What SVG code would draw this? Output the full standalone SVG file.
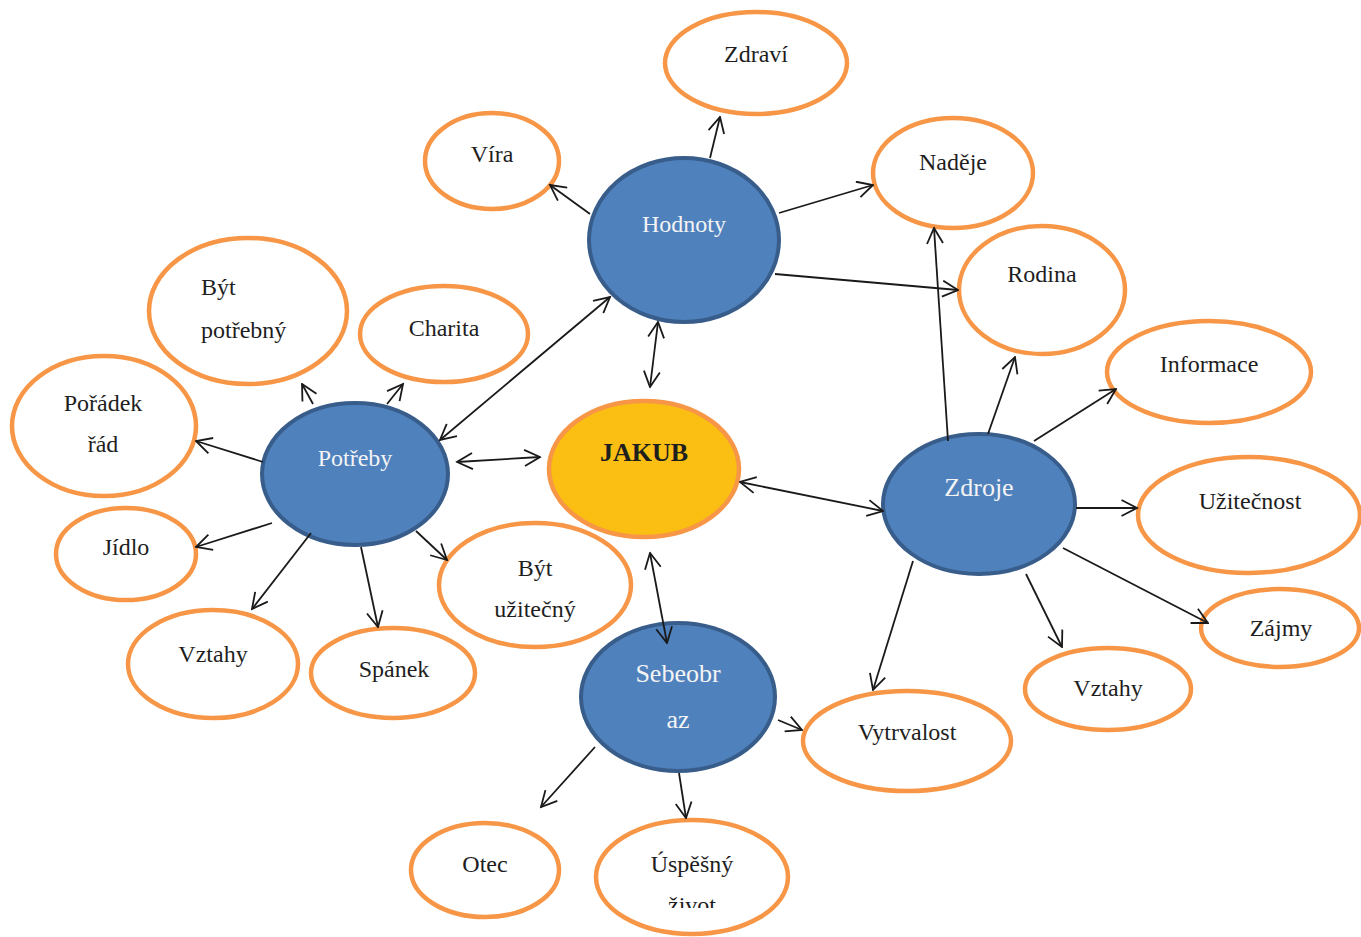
<svg xmlns="http://www.w3.org/2000/svg" width="1361" height="937" viewBox="0 0 1361 937">
<style>
.o{fill:#fff;stroke:#F79646;stroke-width:4.5}
.b{fill:#4F81BD;stroke:#385D8A;stroke-width:4}
.t{font-family:"Liberation Serif","Times New Roman",serif;font-size:24px;fill:#1e1e1e;text-anchor:middle}
.w{font-family:"Liberation Serif","Times New Roman",serif;font-size:24px;fill:#F4F4F4;text-anchor:middle}
.c line{stroke:#1a1a1a;stroke-width:1.8;marker-end:url(#ah)}
.c line.d{marker-start:url(#ah)}
</style>
<defs>
<marker id="ah" viewBox="0 0 18 18" refX="16.5" refY="9" markerWidth="18" markerHeight="18" markerUnits="userSpaceOnUse" orient="auto-start-reverse">
<path d="M1,1 L16.5,9 L1,17" fill="none" stroke="#1a1a1a" stroke-width="1.8"/>
</marker>
<clipPath id="clipz"><rect x="600" y="880" width="180" height="28"/></clipPath>
</defs>
<rect width="1361" height="937" fill="#fff"/>

<g id="zdravi"><ellipse class="o" cx="756" cy="63" rx="91" ry="51"/><text class="t" x="756" y="62">Zdraví</text></g>
<g id="vira"><ellipse class="o" cx="492" cy="161" rx="67" ry="48"/><text class="t" x="492" y="162">Víra</text></g>
<g id="nadeje"><ellipse class="o" cx="953" cy="173" rx="80" ry="55"/><text class="t" x="953" y="170">Naděje</text></g>
<g id="rodina"><ellipse class="o" cx="1042" cy="290" rx="83" ry="64"/><text class="t" x="1042" y="282">Rodina</text></g>
<g id="informace"><ellipse class="o" cx="1209" cy="372" rx="102" ry="51"/><text class="t" x="1209" y="372">Informace</text></g>
<g id="uzitecnost"><ellipse class="o" cx="1249" cy="515" rx="111" ry="58"/><text class="t" x="1250" y="509">Užitečnost</text></g>
<g id="zajmy"><ellipse class="o" cx="1280" cy="628" rx="79" ry="39"/><text class="t" x="1281" y="636">Zájmy</text></g>
<g id="vztahy2"><ellipse class="o" cx="1108" cy="689" rx="83" ry="41"/><text class="t" x="1108" y="696">Vztahy</text></g>
<g id="vytrvalost"><ellipse class="o" cx="907" cy="741" rx="104" ry="50"/><text class="t" x="907" y="740">Vytrvalost</text></g>
<g id="uspesny"><ellipse class="o" cx="692" cy="877" rx="96" ry="57"/><text class="t" x="692" y="872">Úspěšný</text><text class="t" x="692" y="913" clip-path="url(#clipz)">život</text></g>
<g id="otec"><ellipse class="o" cx="485" cy="870" rx="74" ry="47"/><text class="t" x="485" y="872">Otec</text></g>
<g id="spanek"><ellipse class="o" cx="393" cy="673" rx="82" ry="45"/><text class="t" x="394" y="677">Spánek</text></g>
<g id="vztahy1"><ellipse class="o" cx="213" cy="664" rx="85" ry="54"/><text class="t" x="213" y="662">Vztahy</text></g>
<g id="jidlo"><ellipse class="o" cx="126" cy="554" rx="70" ry="46"/><text class="t" x="126" y="555">Jídlo</text></g>
<g id="poradek"><ellipse class="o" cx="104" cy="426" rx="92" ry="70"/><text class="t" x="103" y="411">Pořádek</text><text class="t" x="103" y="452">řád</text></g>
<g id="potrebny"><ellipse class="o" cx="248" cy="311" rx="99" ry="73"/><text class="t" x="201" y="295" text-anchor="start" style="text-anchor:start">Být</text><text class="t" x="201" y="338" style="text-anchor:start">potřebný</text></g>
<g id="charita"><ellipse class="o" cx="444" cy="334" rx="84" ry="48"/><text class="t" x="444" y="336">Charita</text></g>
<g id="uzitecny"><ellipse class="o" cx="535" cy="585" rx="96" ry="62"/><text class="t" x="535" y="576">Být</text><text class="t" x="535" y="617">užitečný</text></g>

<g id="hodnoty"><ellipse class="b" cx="684" cy="240" rx="95" ry="82"/><text class="w" x="684" y="232">Hodnoty</text></g>
<g id="potreby"><ellipse class="b" cx="355" cy="474" rx="93" ry="71"/><text class="w" x="355" y="466">Potřeby</text></g>
<g id="zdroje"><ellipse class="b" cx="979" cy="504" rx="96" ry="70"/><text class="w" x="979" y="496" style="font-size:26px">Zdroje</text></g>
<g id="sebeobraz"><ellipse class="b" cx="678" cy="697" rx="97" ry="74"/><text class="w" x="678" y="682" style="font-size:26px">Sebeobr</text><text class="w" x="678" y="728" style="font-size:26px">az</text></g>
<g id="jakub"><ellipse cx="644" cy="469" rx="95" ry="68" fill="#FBBE12" stroke="#F79646" stroke-width="4.5"/><text x="644" y="461" text-anchor="middle" style="font-family:'Liberation Serif','Times New Roman',serif;font-size:26px;font-weight:bold;fill:#1e1e1e">JAKUB</text></g>

<g id="connectors" class="c">
<line x1="710" y1="158" x2="720" y2="117"/>
<line x1="590" y1="214" x2="550" y2="185"/>
<line x1="779" y1="213" x2="873" y2="185"/>
<line x1="775" y1="274" x2="958" y2="290"/>
<line class="d" x1="658" y1="322" x2="650" y2="387"/>
<line class="d" x1="440" y1="440" x2="610" y2="297"/>
<line class="d" x1="457" y1="462" x2="540" y2="457"/>
<line class="d" x1="740" y1="482" x2="883" y2="511"/>
<line class="d" x1="650" y1="553" x2="667" y2="643"/>
<line x1="313" y1="404" x2="302" y2="384"/>
<line x1="387" y1="404" x2="403" y2="384"/>
<line x1="263" y1="462" x2="196" y2="441"/>
<line x1="272" y1="523" x2="196" y2="547"/>
<line x1="311" y1="533" x2="252" y2="609"/>
<line x1="361" y1="547" x2="378" y2="627"/>
<line x1="416" y1="531" x2="447" y2="560"/>
<line x1="948" y1="441" x2="934" y2="228"/>
<line x1="988" y1="434" x2="1015" y2="357"/>
<line x1="1034" y1="441" x2="1116" y2="389"/>
<line x1="1076" y1="508" x2="1137" y2="508"/>
<line x1="1063" y1="548" x2="1208" y2="623"/>
<line x1="1026" y1="574" x2="1062" y2="647"/>
<line x1="913" y1="561" x2="873" y2="690"/>
<line x1="778" y1="720" x2="802" y2="730"/>
<line x1="595" y1="747" x2="541" y2="807"/>
<line x1="679" y1="773" x2="686" y2="818"/>
</g>
</svg>
